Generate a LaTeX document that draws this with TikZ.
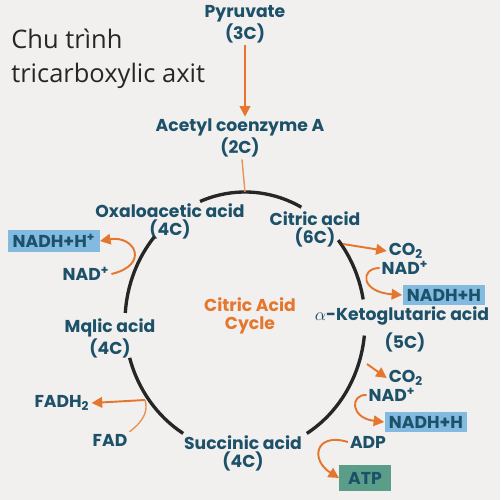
\documentclass[tikz,border=0pt]{standalone}
\usepackage{fontspec}
\setmainfont{Open Sans}
\newfontfamily\labfont{Poppins}
\usetikzlibrary{arrows.meta}
\definecolor{bgcol}{HTML}{F1F0EE}
\definecolor{labcol}{HTML}{1D5169}
\definecolor{flowcol}{HTML}{E5762E}
\definecolor{nadhcol}{HTML}{82BAE0}
\definecolor{atpcol}{HTML}{5A9E8A}
\tikzset{
  lab/.style={text=labcol, font=\labfont\bfseries\fontsize{9.8}{10.3}\selectfont, align=center, inner sep=1pt},
  nadh/.style={lab, fill=nadhcol, inner sep=2.5pt},
  atp/.style={lab, fill=atpcol, inner xsep=5pt, inner ysep=4pt},
  cyc/.style={line width=1.9pt, black!85},
  flow/.style={flowcol, line width=1.1pt, -{Triangle[length=6pt,width=6pt]}},
  feed/.style={flowcol!80, line width=0.8pt},
}
\begin{document}
\begin{tikzpicture}[x=0.02cm, y=-0.02cm]
\fill[bgcol] (0,0) rectangle (500,500);
\node[anchor=west, align=left, inner sep=0pt, text=black!85, font=\fontsize{14.5}{19.3}\selectfont] (title) at (11,59) {Chu trình\\tricarboxylic axit};

\node[lab] (pyr) at (245,24) {Pyruvate\\(3C)};
\node[lab] (acetyl) at (240,138) {Acetyl coenzyme A\\(2C)};
\node[lab] (oxalo) at (170,221) {Oxaloacetic acid\\(4C)};
\node[lab] (citric) at (315,229) {Citric acid\\(6C)};
\node[lab] (keto) at (402,316) {$\alpha$-Ketoglutaric acid};
\node[lab] (five) at (405,342) {(5C)};
\node[lab] (succ) at (243,453) {Succinic acid\\(4C)};
\node[lab] (malic) at (110,338) {Mqlic acid\\(4C)};
\node[lab, text=flowcol] (cac) at (250,316) {Citric Acid\\Cycle};

\node[nadh] (nadh1) at (54,241) {NADH+H\textsuperscript{+}};
\node[lab] (nad1) at (86,274) {NAD\textsuperscript{+}};
\node[lab] (co2a) at (406,251) {CO\textsubscript{2}};
\node[lab] (nad2) at (405,268) {NAD\textsuperscript{+}};
\node[nadh] (nadh2) at (444,295) {NADH+H};
\node[lab] (co2b) at (406,378) {CO\textsubscript{2}};
\node[lab] (nad3) at (392,395) {NAD\textsuperscript{+}};
\node[nadh] (nadh3) at (426,422) {NADH+H};
\node[lab] (adp) at (368,442) {ADP};
\node[atp] (atp) at (365,478) {ATP};
\node[lab] (fadh) at (62,403) {FADH\textsubscript{2}};
\node[lab] (fad) at (110,440) {FAD};

\coordinate (O) at (245,322);
\foreach \a/\b in {248/298, 321/350, 6/59, 121/164, 184/221}
  \draw[cyc] (O) ++(\a:120 and 130) arc[start angle=\a, end angle=\b, x radius=120, y radius=130];
\path (O) ++(270:120 and 130) coordinate (top);
\coordinate (k1) at (343,244);
\coordinate (k2) at (367,364);
\coordinate (f1) at (145,400);

\draw[flow] (pyr) -- (pyr |- acetyl.north);
\draw[feed] (acetyl) -- (top);
\draw[flow] (nad1.east) .. controls (150,265) and (135,235) .. (nadh1.east);
\draw[flow] (k1) -- (co2a.west);
\draw[flow] (nad2.west) .. controls (360,268) and (360,292) .. (nadh2.west);
\draw[flow] (k2) -- (co2b.west);
\draw[flow] (nad3.west) .. controls (350,394) and (350,418) .. (nadh3.west);
\draw[flow] (adp.west) .. controls (315,432) and (310,460) .. (atp.west);
\draw[flow] (f1) -- (fadh.east);
\draw[feed] (fad.north east) .. controls (145,420) and (148,410) .. (f1);
\end{tikzpicture}
\end{document}
